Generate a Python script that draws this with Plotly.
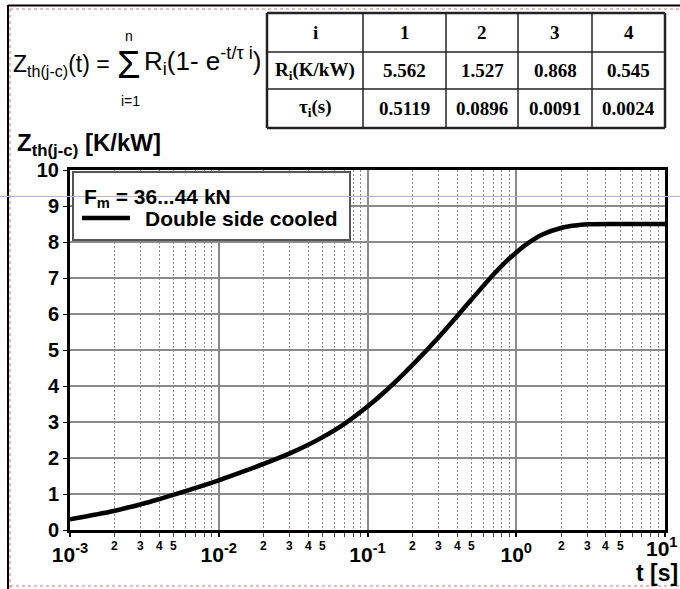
import math
import plotly.graph_objects as go

# ---------------- data ----------------
t_s = [0.001, 0.0015, 0.002, 0.003, 0.004, 0.005, 0.007, 0.01, 0.015, 0.02,
       0.03, 0.04, 0.05, 0.07, 0.1, 0.15, 0.2, 0.3, 0.4, 0.5, 0.7, 0.85,
       1.0, 1.2, 1.5, 2.0, 2.5, 3.0, 5.0, 10.0]
zth_kw = [0.30, 0.43, 0.535, 0.715, 0.86, 0.98, 1.17, 1.38, 1.64, 1.835,
          2.13, 2.37, 2.58, 2.95, 3.43, 4.07, 4.58, 5.35, 5.94, 6.40, 7.09, 7.45,
          7.71, 7.97, 8.21, 8.39, 8.46, 8.49, 8.50, 8.50]

table_index = ["1", "2", "3", "4"]
r_values = ["5.562", "1.527", "0.868", "0.545"]
tau_values = ["0.5119", "0.0896", "0.0091", "0.0024"]

x_major_vals = [1e-3, 1e-2, 1e-1, 1, 10]
x_major_text = ["10<sup>-3</sup>", "10<sup>-2</sup>", "10<sup>-1</sup>", "10<sup>0</sup>", "10<sup>1</sup>"]
x_minor_labels = [2, 3, 4, 5]
decades = [1e-3, 1e-2, 1e-1, 1]
y_ticks = list(range(0, 11))

legend_title = "F<sub>m</sub> = 36...44 kN"
series_name = "Double side cooled"

# ---------------- geometry helpers ----------------
W, H = 680, 589
L, R, T, B = 70, 665, 170, 530


def px(x):
    return (x - L) / (R - L)


def py(y):
    return (B - y) / (B - T)


SANS = "Liberation Sans, Arial, sans-serif"
SERIF = "Liberation Serif, Times New Roman, serif"

fig = go.Figure()
fig.add_trace(go.Scatter(x=t_s, y=zth_kw, mode="lines", name=series_name,
                         line=dict(color="black", width=4.5, shape="spline"),
                         showlegend=False, hoverinfo="skip"))

minor_vals = [d * k for d in decades for k in range(2, 10)]
# last major label is drawn as an annotation so it can sit inside the picture
axis_ticktext = x_major_text[:-1] + [""]

fig.update_layout(
    width=W, height=H,
    margin=dict(l=L, r=W - R, t=T, b=H - B, autoexpand=False),
    paper_bgcolor="white", plot_bgcolor="white",
    font=dict(family=SANS, color="black"),
    xaxis=dict(type="log", range=[-3, 1], tickvals=x_major_vals, ticktext=axis_ticktext,
               tickfont=dict(family=SANS, size=21, weight="bold", color="black"),
               ticklabeloverflow="allow", automargin=False,
               ticks="outside", ticklen=4, tickcolor="black", tickwidth=1.5,
               showgrid=True, gridcolor="#8a8a8a", gridwidth=1.5,
               showline=True, linecolor="black", linewidth=3, mirror=True,
               zeroline=False,
               minor=dict(tickvals=minor_vals, ticks="outside", ticklen=4, tickcolor="#444",
                          tickwidth=1, showgrid=True, gridcolor="#8a8a8a", gridwidth=1,
                          griddash="2px,2px")),
    yaxis=dict(range=[0, 10], tickvals=y_ticks, ticks="outside", ticklen=4, tickcolor="black",
               tickfont=dict(family=SANS, size=20, weight="bold", color="black"),
               automargin=False,
               showgrid=True, gridcolor="#8a8a8a", gridwidth=1.5,
               showline=True, linecolor="black", linewidth=3, mirror=True,
               zeroline=False),
)

shapes = []
annotations = []

# outer frame of the picture
shapes.append(dict(type="line", xref="paper", yref="paper", x0=px(8), x1=px(681), y0=py(5.5), y1=py(5.5),
                   line=dict(color="black", width=2)))
shapes.append(dict(type="line", xref="paper", yref="paper", x0=px(8), x1=px(8), y0=py(5), y1=py(590),
                   line=dict(color="black", width=2)))
for seg in [((10, 9), (681, 9)), ((10, 9), (10, 590)), ((10, 586), (681, 586))]:
    (xa, ya), (xb, yb) = seg
    shapes.append(dict(type="line", xref="paper", yref="paper", x0=px(xa), x1=px(xb), y0=py(ya), y1=py(yb),
                       line=dict(color="#e07070", width=1, dash="3px,3px")))

# legend box
shapes.append(dict(type="rect", xref="paper", yref="paper", x0=px(73), x1=px(350), y0=py(172), y1=py(240),
                   fillcolor="white", line=dict(color="#555", width=2), layer="above"))
shapes.append(dict(type="line", xref="paper", yref="paper", x0=px(82), x1=px(130), y0=py(218), y1=py(218),
                   line=dict(color="black", width=4.5), layer="above"))
annotations.append(dict(xref="paper", yref="paper", x=px(82), y=py(198), xanchor="left", yanchor="middle",
                        text=legend_title, showarrow=False,
                        font=dict(family=SANS, size=21, weight="bold", color="black")))
annotations.append(dict(xref="paper", yref="paper", x=px(143), y=py(218), xanchor="left", yanchor="middle",
                        text=series_name, showarrow=False,
                        font=dict(family=SANS, size=21, weight="bold", color="black")))

# thin horizontal artefact line across the picture
shapes.append(dict(type="line", xref="paper", yref="paper", x0=px(0), x1=px(681), y0=py(196.5), y1=py(196.5),
                   line=dict(color="#b4b4d8", width=1), layer="above"))

# minor x tick labels
for d in decades:
    for k in x_minor_labels:
        annotations.append(dict(xref="x", yref="paper", x=math.log10(d * k), y=py(537), xanchor="center",
                                yanchor="top", text=str(k), showarrow=False,
                                font=dict(family=SANS, size=12, weight="bold", color="black")))

# last major x label (10^1), pulled slightly inside the picture
annotations.append(dict(xref="x", yref="paper", x=math.log10(x_major_vals[-1]), y=py(532), xanchor="right",
                        yanchor="top", xshift=15, text=x_major_text[-1], showarrow=False,
                        font=dict(family=SANS, size=21, weight="bold", color="black")))

# axis titles
annotations.append(dict(xref="paper", yref="paper", x=px(15), y=py(144), xanchor="left", yanchor="middle",
                        text="Z<sub>th(j-c)</sub> [K/kW]", showarrow=False,
                        font=dict(family=SANS, size=24, weight="bold", color="black")))
annotations.append(dict(xref="paper", yref="paper", x=px(680), y=py(573), xanchor="right", yanchor="middle",
                        text="t [s]", showarrow=False,
                        font=dict(family=SANS, size=23, weight="bold", color="black")))

# formula
annotations.append(dict(xref="paper", yref="paper", x=px(11), y=py(66), xanchor="left", yanchor="middle",
                        text="Z<sub>th(j-c)</sub>(t) =", showarrow=False,
                        font=dict(family=SANS, size=23, color="black")))
annotations.append(dict(xref="paper", yref="paper", x=px(129), y=py(65), xanchor="center", yanchor="middle",
                        text="Σ", showarrow=False, font=dict(family=SANS, size=38, color="black")))
annotations.append(dict(xref="paper", yref="paper", x=px(129), y=py(36), xanchor="center", yanchor="middle",
                        text="n", showarrow=False, font=dict(family=SANS, size=14, color="black")))
annotations.append(dict(xref="paper", yref="paper", x=px(130), y=py(101), xanchor="center", yanchor="middle",
                        text="i=1", showarrow=False, font=dict(family=SANS, size=14, color="black")))
annotations.append(dict(xref="paper", yref="paper", x=px(142), y=py(61), xanchor="left", yanchor="middle",
                        text="R<sub>i</sub>(1- e<sup>-t/τ i</sup>)", showarrow=False,
                        font=dict(family=SANS, size=26, color="black")))

# table
col_edges = [267, 363, 446, 518, 592, 665]
row_edges = [13, 52, 89, 128]
for i, xe in enumerate(col_edges):
    w = 2.5 if i in (0, len(col_edges) - 1) else 1.5
    shapes.append(dict(type="line", xref="paper", yref="paper", x0=px(xe), x1=px(xe),
                       y0=py(row_edges[0]), y1=py(row_edges[-1]), line=dict(color="#222", width=w)))
for j, ye in enumerate(row_edges):
    w = 2.5 if j in (0, len(row_edges) - 1) else 1.5
    shapes.append(dict(type="line", xref="paper", yref="paper", x0=px(col_edges[0]), x1=px(col_edges[-1]),
                       y0=py(ye), y1=py(ye), line=dict(color="#222", width=w)))

row_heads = ["i", "R<sub>i</sub>(K/kW)", "τ<sub>i</sub>(s)"]
rows = [table_index, r_values, tau_values]
for j in range(3):
    yc = (row_edges[j] + row_edges[j + 1]) / 2
    cells = [row_heads[j]] + rows[j]
    for i, txt in enumerate(cells):
        xc = (col_edges[i] + col_edges[i + 1]) / 2
        annotations.append(dict(xref="paper", yref="paper", x=px(xc), y=py(yc), xanchor="center",
                                yanchor="middle", text=txt, showarrow=False,
                                font=dict(family=SERIF, size=19, weight="bold", color="black")))

fig.update_layout(shapes=shapes, annotations=annotations)
fig.write_html("out.html", config={"displayModeBar": False},
               post_script="document.body.style.margin='0';document.body.style.overflow='hidden';")
